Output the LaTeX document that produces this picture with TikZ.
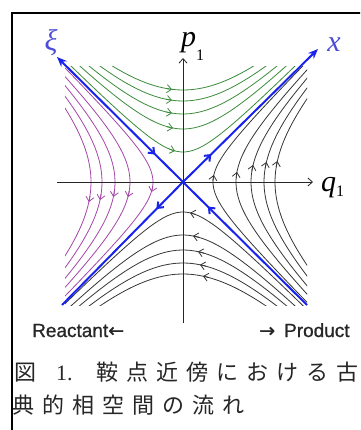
\documentclass[tikz,border=0pt]{standalone}
\usepackage{fontspec}
\setmainfont{Liberation Serif}
\newfontfamily\cjkfont{Noto Sans CJK JP}
\newfontfamily\labsans[FakeBold=0.8]{Liberation Sans}
\newfontfamily\arrowfont[FakeBold=0.8]{DejaVu Sans}
\usetikzlibrary{arrows.meta,decorations.markings}
\definecolor{flowblue}{RGB}{25,35,235}
\definecolor{labelblue}{RGB}{75,75,215}
\definecolor{flowgreen}{RGB}{60,140,60}
\definecolor{flowpurple}{RGB}{165,70,170}
\definecolor{flowgray}{RGB}{55,55,55}
\newcommand\cjs{\hspace{8pt}}
\newcommand\subfont{\fontsize{16}{16}\selectfont\upshape}
\tikzset{
  framestyle/.style={draw=black, line width=1.5pt},
  axisline/.style={draw=black!85, line width=0.8pt, -{Straight Barb[length=4.5pt,width=8pt]}},
  blueline/.style={draw=flowblue, line width=2pt},
  bluemark/.style={postaction={decorate,decoration={markings,mark=at position #1 with {\arrow{Straight Barb[length=5pt,width=8pt]}}}}},
  flowline/.style={line width=0.8pt},
  flowtip/.style={-{Straight Barb[length=4.5pt,width=8pt]}},
  greenflow/.style={flowline, draw=flowgreen},
  purpleflow/.style={flowline, draw=flowpurple},
  grayflow/.style={flowline, draw=flowgray},
  mathlabel/.style={font=\fontsize{30}{30}\selectfont\itshape, inner sep=0pt},
  sidelabel/.style={font=\fontsize{19}{19}\selectfont\labsans, inner sep=0pt, anchor=base west, text=black!85},
  capfont/.style={font=\fontsize{22}{22}\selectfont\cjkfont, inner sep=0pt, anchor=base west, text=black!85},
  capnum/.style={font=\fontsize{22}{22}\selectfont, inner sep=0pt, anchor=base west, text=black!85},
}
\begin{document}
\begin{tikzpicture}[x=1pt,y=-1pt]
\useasboundingbox (0,0) rectangle (360,430);
\clip (0,0) rectangle (360,430);
\fill[white] (0,0) rectangle (360,430);
\draw[framestyle] (12,440) -- (12,13) -- (370,13);

\begin{scope}[shift={(183,182)}, x=10pt, y=10pt]
  \coordinate (O) at (0,0);
  \coordinate (XI) at (-12.6,12.5);
  \coordinate (XT) at (13.5,13.3);
  \coordinate (LL) at (-12.1,-12.3);
  \coordinate (LR) at (12.4,-12.3);
  \coordinate (QL) at (-12.6,0);
  \coordinate (QR) at (13.0,0);
  \coordinate (PB) at (0,-14.1);
  \coordinate (PT) at (0,12.4);
  \begin{scope}
    \clip (-11.8,-12.3) rectangle (12.4,11.5);
    \foreach \a/\g/\u/\r/\b in {3.0/0.8/1.0/0.7/0.7, 5.3/1.0/1.5/1.0/1.0, 6.8/1.1/1.5/1.7/1.5, 8.1/1.1/1.8/2.0/1.7, 9.2/1.1/2.0/2.1/2.0} {
      % top (green), flowing right
      \draw[greenflow] plot[domain=-13:13,samples=60] (\x,{sqrt(\x*\x+\a*\a)});
      \draw[greenflow,flowtip] plot[domain=0:0.6,samples=4] ({-\g-0.6+\x},{sqrt((-\g-0.6+\x)^2+\a*\a)});
      % left (purple), flowing down
      \draw[purpleflow] plot[domain=-13:13,samples=60] ({-sqrt(\x*\x+\a*\a)},\x);
      \draw[purpleflow,flowtip] plot[domain=0:0.6,samples=4] ({-sqrt((-\u+0.6-\x)^2+\a*\a)},{-\u+0.6-\x});
      % right (gray), flowing up
      \draw[grayflow] plot[domain=-13:13,samples=60] ({sqrt(\x*\x+\a*\a)},\x);
      \draw[grayflow,flowtip] plot[domain=0:0.6,samples=4] ({sqrt((\r-0.6+\x)^2+\a*\a)},{\r-0.6+\x});
      % bottom (gray), flowing left
      \draw[grayflow] plot[domain=-13:13,samples=60] (\x,{-sqrt(\x*\x+\a*\a)});
      \draw[grayflow,flowtip] plot[domain=0:0.6,samples=4] ({\b+0.6-\x},{-sqrt((\b+0.6-\x)^2+\a*\a)});
    }
  \end{scope}
  \draw[axisline] (QL) -- (QR);
  \draw[axisline] (PB) -- (PT);
  \draw[blueline, {Stealth[length=10pt,width=8pt]}-, bluemark=0.78] (XI) -- (O);
  \draw[blueline, -{Stealth[length=10pt,width=8pt]}, bluemark=0.21] (O) -- (XT);
  \draw[blueline, bluemark=0.22] (O) -- (LL);
  \draw[blueline, bluemark=0.8] (LR) -- (O);
\end{scope}

\node[mathlabel, text=labelblue] (xilab) at (51,43) {ξ};
\node[mathlabel, text=labelblue, anchor=base] (xlab) at (334,52) {x};
\node[mathlabel, anchor=base west] (plab) at (181,47) {p\raisebox{-14pt}{\subfont 1}};
\node[mathlabel, anchor=base west] (qlab) at (321,192) {q\raisebox{-5pt}{\subfont 1}};

\node[sidelabel] (reactant) at (32,337) {Reactant{\arrowfont ←}};
\node[sidelabel] (product) at (259,337) {{\arrowfont →}\hspace{9pt}Product};

\node[capfont] (cap1a) at (14,380) {図};
\node[capnum] (cap1b) at (56,380) {1.};
\node[capfont] (cap1c) at (96,380) {鞍\cjs 点\cjs 近\cjs 傍\cjs に\cjs お\cjs け\cjs る\cjs 古};
\node[capfont] (cap2) at (12,413) {典\cjs 的\cjs 相\cjs 空\cjs 間\cjs の\cjs 流\cjs れ};
\end{tikzpicture}
\end{document}
